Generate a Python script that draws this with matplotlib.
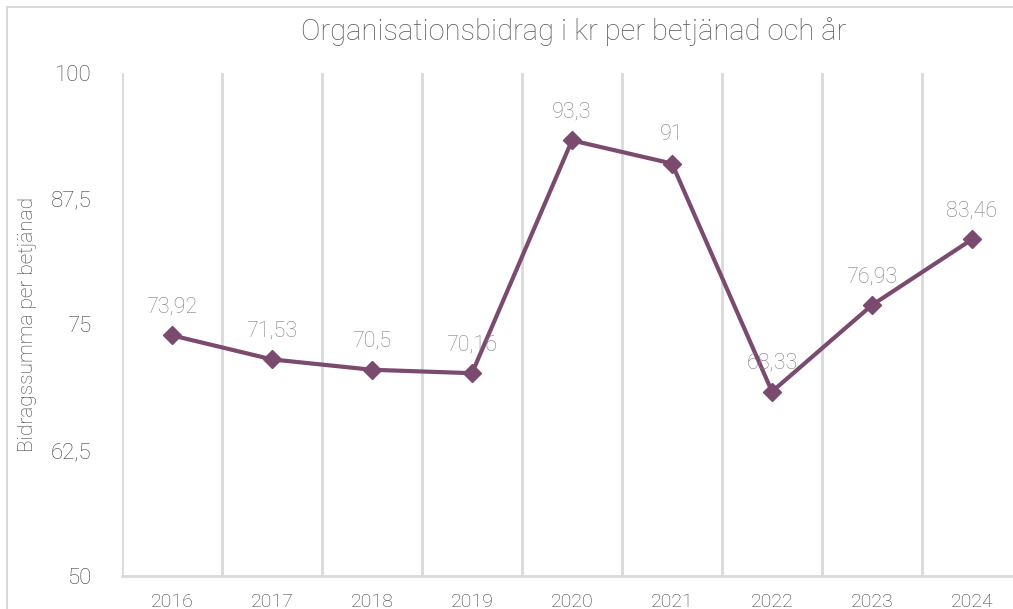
import matplotlib
matplotlib.use('Agg')
from matplotlib import pyplot as plt

years = ['2016', '2017', '2018', '2019', '2020', '2021', '2022', '2023', '2024']
values = [73.92, 71.53, 70.5, 70.16, 93.3, 91, 68.33, 76.93, 83.46]
labels = ['73,92', '71,53', '70,5', '70,16', '93,3', '91', '68,33', '76,93', '83,46']
yticks = [50, 62.5, 75, 87.5, 100]
ytick_labels = ['50', '62,5', '75', '87,5', '100']

plt.rcParams['font.family'] = ['Roboto', 'DejaVu Sans']
text_col = '#595959'
grid_col = '#d9d9d9'
line_col = '#7b4a6f'
wt = 'light'

fig = plt.figure(figsize=(10.13, 6.09), dpi=100)
W, H = 1013, 609
# plot area in pixels: x 122..1022, y 73..576
ax = fig.add_axes([122 / W, 1 - 576 / H, 900 / W, 503 / H])

x = list(range(len(years)))
ax.plot(x, values, color=line_col, lw=3, marker='D', ms=9, zorder=3)
for xi, v, t in zip(x, values, labels):
    ax.annotate(t, (xi, v), xytext=(0, 13), textcoords='offset points',
                ha='center', va='bottom', fontsize=15.5, color='#7f7f7f',
                fontweight=wt, zorder=4)

ax.set_xlim(-0.5, len(years) - 0.5)
ax.set_ylim(50, 100)
ax.set_xticks(x)
ax.set_xticklabels(years, fontsize=14, color='#404040', fontweight=wt)
ax.set_yticks(yticks)
ax.set_yticklabels(ytick_labels, fontsize=16, color='#404040', fontweight=wt)
ax.tick_params(length=0)
ax.tick_params(axis='x', pad=12)
ax.tick_params(axis='y', pad=22)

# vertical grid lines at category boundaries
for b in range(len(years) + 1):
    ax.axvline(b - 0.5, color=grid_col, lw=2, zorder=1)
for s in ['top', 'right', 'left']:
    ax.spines[s].set_visible(False)
ax.spines['bottom'].set_color(grid_col)
ax.spines['bottom'].set_linewidth(2)

ax.set_ylabel('Bidragssumma per betjänad', fontsize=15, color='#404040',
              fontweight=wt, labelpad=10)
fig.text(574 / W, 1 - 32 / H, 'Organisationsbidrag i kr per betjänad och år',
         ha='center', va='center', fontsize=21, color=text_col, fontweight=wt)

# outer chart border
fig.patches.append(plt.Rectangle((7 / W, -0.1), 1.1, 1 - 7 / H + 0.1,
                                 transform=fig.transFigure, fill=False,
                                 edgecolor=grid_col, lw=1.5))

fig.savefig('out.png', dpi=100)
